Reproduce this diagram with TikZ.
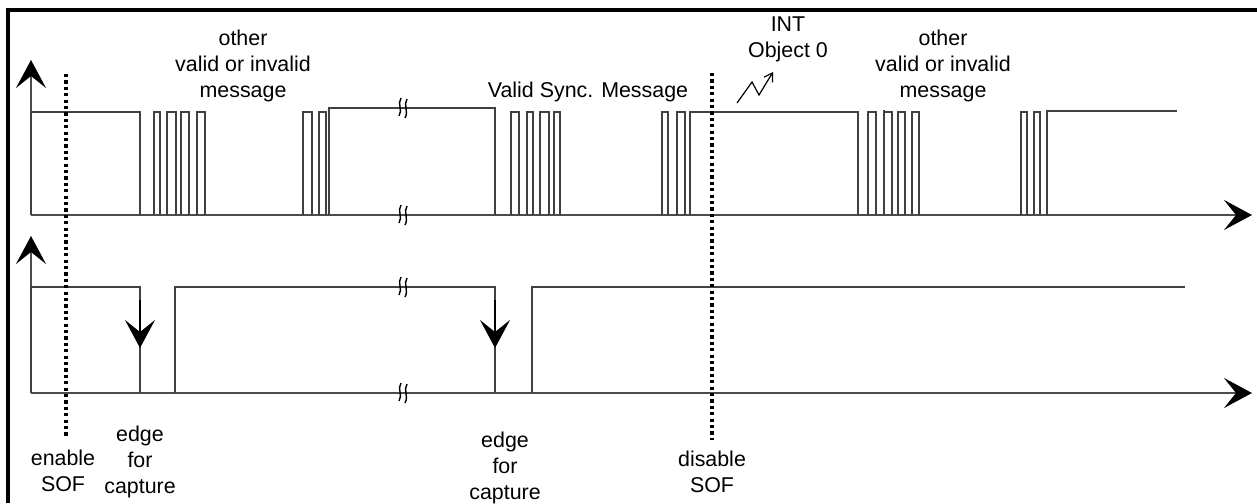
\documentclass[tikz,border=0pt]{standalone}
\usepackage{fontspec}
\setmainfont{Liberation Sans}
\usetikzlibrary{arrows.meta}
\begin{document}
\begin{tikzpicture}[x=0.5pt,y=-0.5pt,
  sig/.style={draw=black!75,line width=0.8pt,line join=miter},
  axis/.style={draw=black!70,line width=0.8pt},
  bigtip/.style={-{Stealth[length=14pt,width=15pt,inset=6pt,color=black]}},
  sofline/.style={draw=black,line width=1.6pt,dash pattern=on 1.6pt off 1.6pt},
  lbl/.style={font=\fontsize{10.7}{13}\selectfont,align=center,inner sep=0pt},
  brk/.style={draw=black,line width=0.7pt},
  frame/.style={draw=black,line width=1.6pt}]
\useasboundingbox (0,0) rectangle (1257,503);
% frame (top and left)
\draw[frame] (8,503) -- (8,10) -- (1257,10);
% axes
\draw[axis,bigtip] (31,215) -- (31,60);
\draw[axis,bigtip] (31,215) -- (1252,215);
\draw[axis,bigtip] (31,393) -- (31,236);
\draw[axis,bigtip] (31,393) -- (1252,393);
% top signal
\draw[sig] (31,215) -- (31,112) -- (140,112) -- (140,215);
\foreach \a/\b in {154/160,167/176,181/189,197/205,303/312,319/326,
                   511/519,527/533,540/549,554/560,662/668,677/685,
                   868/876,884/892,898/905,912/919,1021/1027,1034/1040}
  \draw[sig] (\a,215) -- (\a,112) -- (\b,112) -- (\b,215);
\draw[sig] (884,112) -- (884,110);
\draw[sig] (329,215) -- (329,108) -- (495,108) -- (495,215);
\draw[sig] (690,215) -- (690,112) -- (858,112) -- (858,215);
\draw[sig] (1047,215) -- (1047,111) -- (1177,111);
% bottom signal
\draw[sig] (31,393) -- (31,287) -- (140,287) -- (140,393);
\draw[sig] (175,393) -- (175,287) -- (495,287) -- (495,393);
\draw[sig] (532,393) -- (532,287) -- (1185,287);
% capture edge arrowheads
\draw[draw=black,line width=0.8pt,-{Stealth[length=14pt,width=15pt,inset=6pt]}] (140,300) -- (140,348);
\draw[draw=black,line width=0.8pt,-{Stealth[length=14pt,width=15pt,inset=6pt]}] (495,300) -- (495,348);
% break marks
\foreach \yy in {108,215,287,393}{
  \draw[brk] (399,\yy+8) .. controls (403,\yy+2) and (397,\yy-4) .. (401,\yy-10);
  \draw[brk] (405,\yy+10) .. controls (409,\yy+3) and (403,\yy-3) .. (407,\yy-9);
}
% SOF enable / disable lines
\draw[sofline] (66,74) -- (66,438);
\draw[sofline] (712,73) -- (712,440);
% INT lightning arrow
\draw[draw=black,line width=0.6pt,-{Straight Barb[length=4pt,width=5pt]}]
  (737,103) -- (752,82) -- (759,95) -- (773,72);
% labels
\node[lbl] (other1) at (243,66) {other\\valid or invalid\\message};
\node[lbl] (sync) at (588,92) {Valid Sync. Message};
\node[lbl] (int) at (788,39) {INT\\Object 0};
\node[lbl] (other2) at (943,66) {other\\valid or invalid\\message};
\node[lbl] (enable) at (63,471) {enable\\SOF};
\node[lbl] (edge1) at (140,462) {edge\\for\\capture};
\node[lbl] (edge2) at (505,468) {edge\\for\\capture};
\node[lbl] (disable) at (712,472) {disable\\SOF};
\end{tikzpicture}
\end{document}
